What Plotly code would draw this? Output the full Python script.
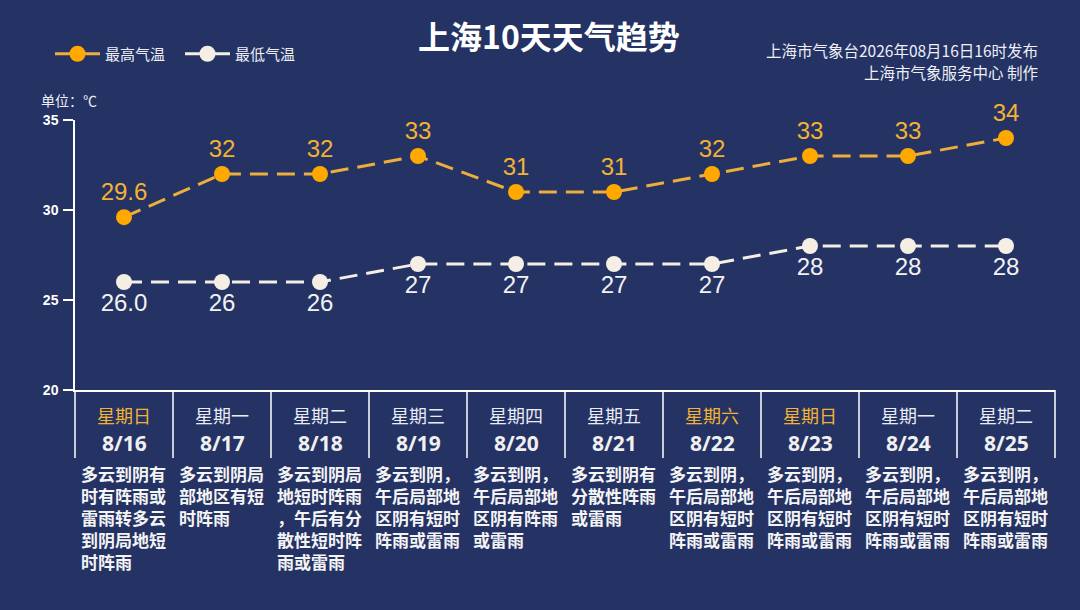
import plotly.graph_objects as go

# ---- data ----
dates = ["8/16", "8/17", "8/18", "8/19", "8/20", "8/21", "8/22", "8/23", "8/24", "8/25"]
weekdays = ["星期日", "星期一", "星期二", "星期三", "星期四", "星期五", "星期六", "星期日", "星期一", "星期二"]
high = [29.6, 32, 32, 33, 31, 31, 32, 33, 33, 34]
low = [26.0, 26, 26, 27, 27, 27, 27, 28, 28, 28]
high_labels = ["29.6", "32", "32", "33", "31", "31", "32", "33", "33", "34"]
low_labels = ["26.0", "26", "26", "27", "27", "27", "27", "28", "28", "28"]
weather = [
    "多云到阴有时有阵雨或雷雨转多云到阴局地短时阵雨",
    "多云到阴局部地区有短时阵雨",
    "多云到阴局地短时阵雨，午后有分散性短时阵雨或雷雨",
    "多云到阴，午后局部地区阴有短时阵雨或雷雨",
    "多云到阴，午后局部地区阴有阵雨或雷雨",
    "多云到阴有分散性阵雨或雷雨",
    "多云到阴，午后局部地区阴有短时阵雨或雷雨",
    "多云到阴，午后局部地区阴有短时阵雨或雷雨",
    "多云到阴，午后局部地区阴有短时阵雨或雷雨",
    "多云到阴，午后局部地区阴有短时阵雨或雷雨",
]

BG = "#243264"
ORANGE = "#FFA800"
ORANGE_LINE = "#EDAE3C"
ORANGE_TEXT = "#F3B233"
CREAM = "#F4EEE4"
FONT = "Liberation Sans, Noto Sans CJK SC, sans-serif"
CJK = "Noto Sans CJK SC, sans-serif"

x = list(range(len(dates)))

fig = go.Figure()
fig.add_trace(go.Scatter(
    x=x, y=high, name="最高气温", mode="lines+markers+text", legend="legend",
    line=dict(color=ORANGE_LINE, width=3, dash="18px,9px"),
    marker=dict(color=ORANGE, size=16),
    text=high_labels, textposition="top center", cliponaxis=False,
    textfont=dict(color=ORANGE_TEXT, size=24, family=FONT),
))
fig.add_trace(go.Scatter(
    x=x, y=low, name="最低气温", mode="lines+markers+text", legend="legend2",
    line=dict(color=CREAM, width=3, dash="18px,9px"),
    marker=dict(color=CREAM, size=16),
    text=low_labels, textposition="bottom center", cliponaxis=False,
    textfont=dict(color="#F2F2F2", size=24, family=FONT),
))

plot_h = 270
ann = []
shapes = []
n = len(dates)
for k in range(n + 1):
    shapes.append(dict(type="line", xref="paper", yref="paper",
                       x0=k / n, x1=k / n, y0=0, y1=-68 / plot_h,
                       line=dict(color="white", width=1.5)))

for i in range(n):
    weekend = weekdays[i] in ("星期六", "星期日")
    ann.append(dict(xref="x", yref="paper", x=i, y=-25 / plot_h, text=weekdays[i],
                    showarrow=False, yanchor="middle",
                    font=dict(size=18, color=ORANGE_TEXT if weekend else "#E8ECF5", family=CJK)))
    ann.append(dict(xref="x", yref="paper", x=i, y=-53 / plot_h, text="<b>" + dates[i] + "</b>",
                    showarrow=False, yanchor="middle",
                    font=dict(size=21, color="#F0F0F0", family="Noto Sans, sans-serif")))
    w = weather[i]
    lines = [w[j:j + 5] for j in range(0, len(w), 5)]
    for r, line in enumerate(lines):
        ann.append(dict(xref="x", yref="paper", x=i - 0.5, xshift=5,
                        y=-(85 + 22 * r) / plot_h,
                        text="<b>" + line + "</b>",
                        showarrow=False, xanchor="left", yanchor="middle", align="left",
                        borderpad=0,
                        font=dict(size=17, color="#F4F4F4", family=FONT)))

ann += [
    dict(xref="paper", yref="paper", x=(549 - 75) / 980, y=(390 - 35) / plot_h,
         text="<b>上海10天天气趋势</b>", showarrow=False, xanchor="center", yanchor="middle",
         font=dict(size=32, color="white", family=CJK)),
    dict(xref="paper", yref="paper", x=(1040 - 75) / 980, y=(390 - 50) / plot_h,
         text="上海市气象台2026年08月16日16时发布", showarrow=False, xanchor="right", yanchor="middle",
         font=dict(size=15.5, color="#EEF0F6", family=CJK)),
    dict(xref="paper", yref="paper", x=(1040 - 75) / 980, y=(390 - 72) / plot_h,
         text="上海市气象服务中心 制作", showarrow=False, xanchor="right", yanchor="middle",
         font=dict(size=15.5, color="#EEF0F6", family=CJK)),
    dict(xref="paper", yref="paper", x=(39 - 75) / 980, y=(390 - 100) / plot_h,
         text="单位：℃", showarrow=False, xanchor="left", yanchor="middle",
         font=dict(size=14, color="#EEF0F6", family=CJK)),
]

legend_style = dict(orientation="h", xanchor="left", yanchor="middle",
                    bgcolor="rgba(0,0,0,0)", y=(390 - 54) / plot_h, itemwidth=45,
                    font=dict(size=15, color="#EEF0F6", family=CJK))

fig.update_layout(
    width=1080, height=610,
    paper_bgcolor=BG, plot_bgcolor=BG,
    margin=dict(l=75, r=25, t=120, b=220),
    showlegend=True,
    legend=dict(x=(50 - 75) / 980, **legend_style),
    legend2=dict(x=(180 - 75) / 980, **legend_style),
    xaxis=dict(range=[-0.5, n - 0.5], showgrid=False, zeroline=False,
               showticklabels=False, ticks="", showline=True,
               linecolor="white", linewidth=1.5, fixedrange=True),
    yaxis=dict(range=[20, 35], tickvals=[20, 25, 30, 35], showgrid=False, zeroline=False,
               ticks="outside", ticklen=10, tickcolor="white", tickwidth=1.5,
               showline=True, linecolor="white", linewidth=1.5, ticklabelstandoff=2,
               tickfont=dict(size=14, color="white", family="Liberation Sans", weight="bold"),
               fixedrange=True),
    annotations=ann,
    shapes=shapes,
)

fig.write_html("out.html", config={"displayModeBar": False},
               post_script="document.body.style.margin='0';")
